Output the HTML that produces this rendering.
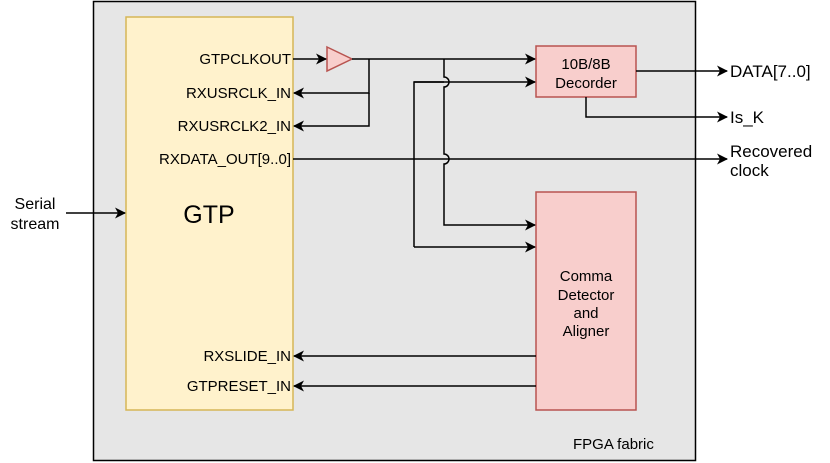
<!DOCTYPE html>
<html><head><style>body{margin:0;background:#fff}svg{display:block}text{font-family:"Liberation Sans",Arial,sans-serif;font-size:15px;fill:#000}text.r{font-size:17px}</style></head>
<body>
<svg width="830" height="463" viewBox="0 0 830 463">
<defs><marker id="a" markerWidth="11" markerHeight="11" refX="10" refY="5.5" orient="auto" markerUnits="userSpaceOnUse"><path d="M0,0 L11,5.5 L0,11 L3,5.5 Z" fill="#000"/></marker></defs>
<rect x="93.5" y="1.5" width="602" height="459" fill="#e6e6e6" stroke="#000" stroke-width="1.5"/>
<rect x="126" y="17" width="167" height="393" fill="#fff2cc" stroke="#d6b656" stroke-width="1.5"/>
<rect x="536" y="46" width="100" height="51" fill="#f8cecc" stroke="#b85450" stroke-width="1.5"/>
<rect x="536" y="192" width="100" height="218" fill="#f8cecc" stroke="#b85450" stroke-width="1.5"/>
<polygon points="327,47 352,59 327,71" fill="#f8cecc" stroke="#b85450" stroke-width="1.5"/>
<g fill="none" stroke="#000" stroke-width="1.5">
<line x1="293" y1="59" x2="326" y2="59" marker-end="url(#a)"/>
<line x1="352" y1="59" x2="535" y2="59" marker-end="url(#a)"/>
<polyline points="369,59 369,93 294,93" marker-end="url(#a)"/>
<polyline points="369,93 369,126 294,126" marker-end="url(#a)"/>
<path d="M444,59 V77 a5,5 0 0 1 0,10 V154 a5,5 0 0 1 0,10 V225 H535" marker-end="url(#a)"/>
<polyline points="444,82 414,82 414,247"/>
<line x1="414" y1="82" x2="535" y2="82" marker-end="url(#a)"/>
<line x1="414" y1="247" x2="535" y2="247" marker-end="url(#a)"/>
<line x1="293" y1="159" x2="727" y2="159" marker-end="url(#a)"/>
<line x1="636" y1="71" x2="727" y2="71" marker-end="url(#a)"/>
<polyline points="586,97 586,117 727,117" marker-end="url(#a)"/>
<line x1="66" y1="213" x2="125" y2="213" marker-end="url(#a)"/>
<line x1="536" y1="356" x2="294" y2="356" marker-end="url(#a)"/>
<line x1="536" y1="386" x2="294" y2="386" marker-end="url(#a)"/>
</g>
<g text-anchor="end">
<text x="291" y="64">GTPCLKOUT</text>
<text x="291" y="98">RXUSRCLK_IN</text>
<text x="291" y="131">RXUSRCLK2_IN</text>
<text x="291" y="164">RXDATA_OUT[9..0]</text>
<text x="291" y="361">RXSLIDE_IN</text>
<text x="291" y="391">GTPRESET_IN</text>
</g>
<g text-anchor="middle">
<text x="209" y="223" style="font-size:25px">GTP</text>
<text x="35" y="209" style="font-size:16px">Serial</text>
<text x="35" y="229" style="font-size:16px">stream</text>
<text x="586" y="69">10B/8B</text>
<text x="586" y="88">Decorder</text>
<text x="586" y="281">Comma</text>
<text x="586" y="300">Detector</text>
<text x="586" y="318">and</text>
<text x="586" y="336">Aligner</text>
</g>
<text class="r" x="730" y="77">DATA[7..0]</text>
<text class="r" x="730" y="123">Is_K</text>
<text class="r" x="730" y="157">Recovered</text>
<text class="r" x="730" y="176">clock</text>
<text x="573" y="449">FPGA fabric</text>
</svg>
</body></html>
